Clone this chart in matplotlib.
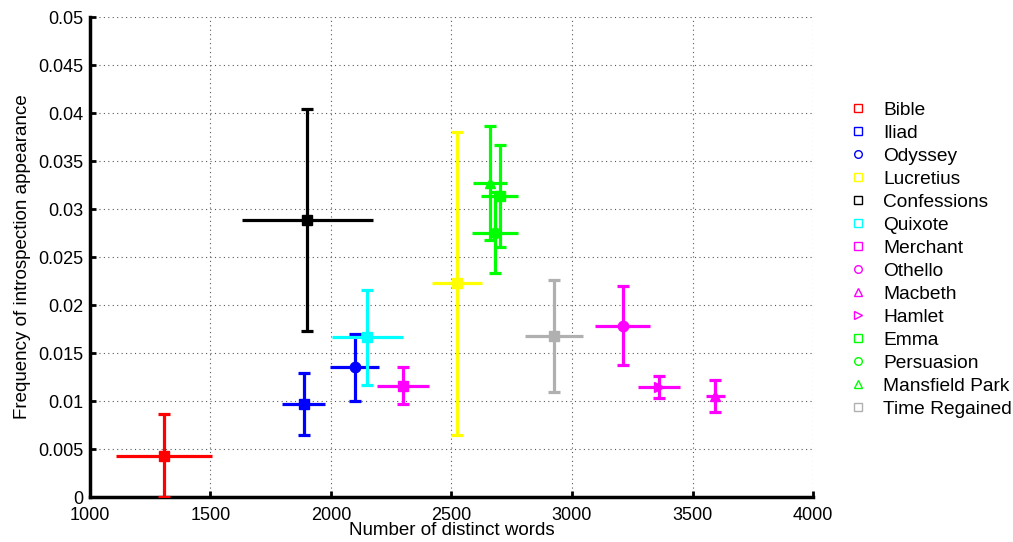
import matplotlib
matplotlib.use("Agg")
import matplotlib.pyplot as plt

plt.rcParams["font.family"] = ["Liberation Sans", "DejaVu Sans"]

BOOKS = ["Bible", "Iliad", "Odyssey", "Lucretius", "Confessions", "Quixote",
         "Merchant", "Othello", "Macbeth", "Hamlet", "Emma", "Persuasion",
         "Mansfield Park", "Time Regained"]
WORDS = [1308, 1886, 2098, 2522, 1902, 2150, 2298, 3211, 3595, 3361,
         2700, 2681, 2660, 2925]
WORDS_ERR = [200, 90, 103, 104, 273, 147, 107, 114, 38, 86,
             78, 97, 72, 122]
FREQ = [0.00430, 0.00969, 0.01351, 0.02226, 0.02885, 0.01663, 0.01160,
        0.01784, 0.01055, 0.01143, 0.03139, 0.02753, 0.03274, 0.01677]
FREQ_ERR = [0.00430, 0.00322, 0.00348, 0.01580, 0.01153, 0.00495, 0.00196,
            0.00409, 0.00165, 0.00113, 0.00533, 0.00423, 0.00592, 0.00580]
COLORS = ["#ff0000", "#0000ff", "#0000ff", "#ffff00", "#000000", "#00ffff",
          "#ff00ff", "#ff00ff", "#ff00ff", "#ff00ff", "#00ff00", "#00ff00",
          "#00ff00", "#b0b0b0"]
MARKERS = ["s", "s", "o", "s", "s", "s", "s", "o", "^", ">", "s", "o", "^", "s"]

fig = plt.figure(figsize=(10.13, 5.42), dpi=100)
ax = fig.add_axes([0.0888, 0.083, 0.7138, 0.8856])

for name, x, xe, y, ye, c, m in zip(BOOKS, WORDS, WORDS_ERR, FREQ, FREQ_ERR,
                                     COLORS, MARKERS):
    # horizontal bars without caps, vertical bars with caps
    ax.errorbar(x, y, xerr=xe, fmt="none", ecolor=c, elinewidth=2.3,
                capsize=0, zorder=3)
    ax.errorbar(x, y, yerr=ye, fmt="none", ecolor=c, elinewidth=2.3,
                capsize=4.5, capthick=2.3, zorder=3)
    ax.plot(x, y, marker=m, color=c, markersize=7.5, linestyle="none",
            zorder=4)
    # hollow marker for the legend
    ax.plot([], [], marker=m, markerfacecolor="none", markeredgecolor=c,
            markersize=5.5, markeredgewidth=1.0, linestyle="none", label=name)

ax.set_xlim(1000, 4000)
ax.set_ylim(0, 0.05)
ax.set_xticks([1000, 1500, 2000, 2500, 3000, 3500, 4000])
ax.set_yticks([0, 0.005, 0.01, 0.015, 0.02, 0.025, 0.03, 0.035, 0.04,
               0.045, 0.05])
ax.set_yticklabels(["0", "0.005", "0.01", "0.015", "0.02", "0.025", "0.03",
                    "0.035", "0.04", "0.045", "0.05"])
ax.tick_params(direction="in", length=4, width=2, labelsize=13)
ax.tick_params(axis="x", pad=7)
ax.tick_params(axis="y", pad=5)
ax.spines[["top", "right"]].set_visible(False)
ax.spines[["left", "bottom"]].set_linewidth(2.5)
ax.grid(True, color="0.35", linestyle=(0, (1, 3)), linewidth=0.8)
ax.set_axisbelow(True)

ax.set_xlabel("Number of distinct words", fontsize=13.5, labelpad=-1)
ax.set_ylabel("Frequency of introspection appearance", fontsize=13.5,
              labelpad=5)

ax.legend(loc="upper left", bbox_to_anchor=(1.0385, 0.84), frameon=False,
          fontsize=13.8, handletextpad=0.8, labelspacing=0.29,
          handlelength=1.0, borderaxespad=0)

fig.savefig("out.png", dpi=100)
